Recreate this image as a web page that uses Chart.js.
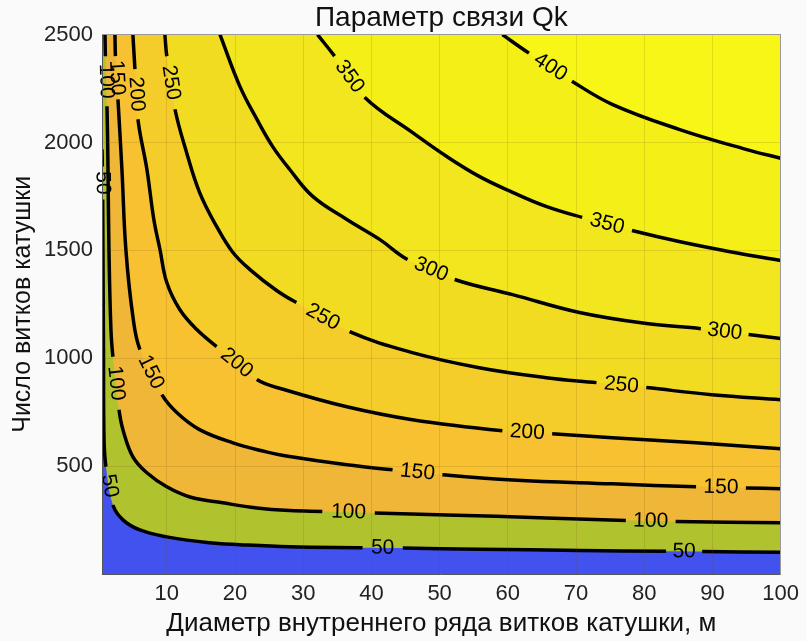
<!DOCTYPE html>
<html lang="ru">
<head>
<meta charset="UTF-8">
<title>Параметр связи Qk</title>
<script src="https://cdn.jsdelivr.net/npm/chart.js"></script>
<style>
  body { margin: 0; background: #fafafa; }
  #wrap { width: 806px; height: 641px; }
</style>
</head>
<body>
<div id="wrap"><canvas id="qk" width="806" height="641"></canvas></div>
<script>
const FONT = "'Liberation Sans', Arial, sans-serif";

// contour levels and band colours (band 0 = below 50, band i = above level i-1)
const levels = [50, 100, 150, 200, 250, 300, 350, 400];
const bandColors = ['#4152ef', '#b1c22f', '#efb638', '#f7c131', '#f5cd2a', '#f2dc22', '#f2e71e', '#f5ef18', '#f8f616'];

const xTicks = [10, 20, 30, 40, 50, 60, 70, 80, 90, 100];
const yTicks = [500, 1000, 1500, 2000, 2500];

// contour lines: x = diameter, y = turns
// gaps = index of the point after which the line is broken for its label
const c50x = [0.5, 0.55, 0.6, 0.64, 0.72, 0.8, 1.08, 2.1, 3.57, 6.06, 10.0, 15.9, 20.7, 28.0, 38.7, 44.6, 55.8, 70.5, 83.2, 88.5, 100];
const c50y = [1968, 1889, 1736, 1504, 1040, 622, 497, 320, 251, 204, 172, 146, 136, 126, 122, 120, 115, 109, 105, 104, 101];
const c50gaps = [1, 6, 14, 18];

const c100x = [0.94, 1.0, 1.23, 1.38, 1.52, 1.81, 2.1, 2.99, 3.57, 5.03, 7.08, 10.0, 13.4, 18.2, 23.2, 28.0, 32.8, 40.5, 51.0, 65.6, 77.3, 84.6, 100];
const c100y = [2500, 2400, 2168, 1876, 1504, 1133, 1007, 761, 669, 543, 469, 404, 357, 330, 306, 294, 290, 283, 274, 260, 248, 243, 237];
const c100gaps = [1, 6, 16, 20];

const c150x = [2.4, 2.47, 2.84, 3.42, 4.0, 5.03, 6.06, 9.28, 11.5, 14.8, 19.7, 24.6, 27.3, 36.4, 43.1, 50.4, 60.7, 75.3, 87.6, 94.9, 100];
const c150y = [2500, 2400, 2200, 1876, 1504, 1193, 1040, 831, 747, 669, 608, 566, 548, 506, 483, 460, 436, 418, 404, 399, 395];
const c150gaps = [1, 6, 14, 18];

const c200x = [5.03, 5.33, 5.77, 7.08, 8.1, 9.0, 10.0, 11.9, 14.4, 17.3, 23.2, 27.3, 36.4, 46.0, 59.2, 66.5, 75.3, 87.6, 100];
const c200y = [2500, 2340, 2108, 1876, 1643, 1504, 1351, 1226, 1133, 1054, 901, 854, 775, 715, 664, 650, 631, 608, 580];
const c200gaps = [1, 9, 14];

const c250x = [9.72, 10.0, 11.2, 12.9, 14.8, 17.3, 19.7, 22.2, 26.1, 29.0, 36.8, 46.0, 55.8, 65.6, 73.0, 80.3, 89.9, 100];
const c250y = [2500, 2400, 2154, 1954, 1769, 1611, 1490, 1411, 1314, 1258, 1123, 1026, 956, 910, 887, 864, 831, 808];
const c250gaps = [1, 9, 14];

const c300x = [17.8, 20.7, 23.2, 25.5, 28.0, 31.4, 36.4, 41.2, 45.3, 52.2, 60.7, 70.5, 80.3, 88.3, 95.3, 100];
const c300y = [2500, 2261, 2108, 1982, 1876, 1750, 1643, 1551, 1458, 1365, 1295, 1212, 1161, 1137, 1110, 1091];
const c300gaps = [8, 13];

const c350x = [32.1, 34.6, 39.0, 46.0, 51.0, 55.8, 60.7, 65.6, 70.9, 78.2, 85.1, 92.4, 100];
const c350y = [2500, 2400, 2210, 2047, 1936, 1843, 1769, 1704, 1653, 1592, 1541, 1495, 1453];
const c350gaps = [1, 8];

const c400x = [59.2, 63.1, 69.4, 75.3, 85.1, 94.9, 100];
const c400y = [2500, 2414, 2284, 2177, 2061, 1968, 1927];
const c400gaps = [1];

const contours = [
  { x: c50x, y: c50y, gaps: c50gaps },
  { x: c100x, y: c100y, gaps: c100gaps },
  { x: c150x, y: c150y, gaps: c150gaps },
  { x: c200x, y: c200y, gaps: c200gaps },
  { x: c250x, y: c250y, gaps: c250gaps },
  { x: c300x, y: c300y, gaps: c300gaps },
  { x: c350x, y: c350y, gaps: c350gaps },
  { x: c400x, y: c400y, gaps: c400gaps }
];
contours.forEach((c, i) => { c.level = levels[i]; });

function points(c) {
  return c.x.map((x, i) => ({ x: x, y: c.y[i] }));
}

const datasets = [];
// filled bands: each contour fills everything above it
contours.forEach((c, i) => {
  datasets.push({
    data: points(c),
    fill: 'end',
    backgroundColor: bandColors[i + 1],
    borderColor: 'transparent',
    borderWidth: 0,
    pointRadius: 0,
    tension: 0.4,
    order: 20 - i
  });
});
// black contour lines, broken where the labels go
contours.forEach(c => {
  datasets.push({
    data: points(c),
    fill: false,
    borderColor: '#000',
    borderWidth: 3.5,
    pointRadius: 0,
    tension: 0.4,
    order: 1,
    segment: {
      borderColor: ctx => c.gaps.includes(ctx.p0DataIndex) ? 'transparent' : '#000'
    }
  });
});

const areaBackground = {
  id: 'areaBackground',
  beforeDatasetsDraw(chart) {
    const a = chart.chartArea, ctx = chart.ctx;
    ctx.save();
    ctx.fillStyle = bandColors[0];
    ctx.fillRect(a.left, a.top, a.right - a.left, a.bottom - a.top);
    ctx.restore();
  }
};

const contourLabels = {
  id: 'contourLabels',
  afterDatasetsDraw(chart) {
    const ctx = chart.ctx, sx = chart.scales.x, sy = chart.scales.y;
    ctx.save();
    ctx.fillStyle = '#000';
    ctx.font = '21px ' + FONT;
    ctx.textAlign = 'center';
    ctx.textBaseline = 'middle';
    contours.forEach(c => {
      c.gaps.forEach(g => {
        const x0 = sx.getPixelForValue(c.x[g]), y0 = sy.getPixelForValue(c.y[g]);
        const x1 = sx.getPixelForValue(c.x[g + 1]), y1 = sy.getPixelForValue(c.y[g + 1]);
        let ang = Math.atan2(y1 - y0, x1 - x0);
        if (ang > Math.PI / 2) ang -= Math.PI;
        if (ang < -Math.PI / 2) ang += Math.PI;
        ctx.save();
        ctx.translate((x0 + x1) / 2, (y0 + y1) / 2);
        ctx.rotate(ang);
        ctx.fillText(String(c.level), 0, 0);
        ctx.restore();
      });
    });
    ctx.restore();
  }
};

const gridColor = 'rgba(110, 80, 0, 0.16)';

new Chart(document.getElementById('qk'), {
  type: 'line',
  data: { datasets: datasets },
  options: {
    responsive: false,
    animation: false,
    layout: { padding: { left: 0, right: 23, top: 0, bottom: 0 } },
    plugins: {
      legend: { display: false },
      tooltip: { enabled: false },
      title: {
        display: true,
        fullSize: false,
        text: 'Параметр связи Qk',
        color: '#111',
        font: { family: FONT, size: 28, weight: 'normal' },
        padding: { top: 1, bottom: 0 }
      }
    },
    scales: {
      x: {
        type: 'linear',
        min: 0.5,
        max: 100,
        z: 1,
        afterBuildTicks: s => { s.ticks = xTicks.map(v => ({ value: v })); },
        afterFit: s => { s.height = 67; },
        grid: { color: gridColor, drawTicks: false, z: 1 },
        border: { color: '#555', z: 2 },
        ticks: { padding: 7, color: '#222', font: { family: FONT, size: 22 }, callback: v => String(v) },
        title: {
          display: true,
          text: 'Диаметр внутреннего ряда витков катушки, м',
          color: '#111',
          font: { family: FONT, size: 26 },
          padding: { top: 0, bottom: 2 }
        }
      },
      y: {
        type: 'linear',
        min: 0,
        max: 2500,
        z: 1,
        afterBuildTicks: s => { s.ticks = yTicks.map(v => ({ value: v })); },
        afterFit: s => { s.width = 102; },
        grid: { color: gridColor, drawTicks: false, z: 1 },
        border: { color: '#555', z: 2 },
        ticks: { padding: 9, color: '#222', font: { family: FONT, size: 22 }, callback: v => String(v) },
        title: {
          display: true,
          text: 'Число витков катушки',
          color: '#111',
          font: { family: FONT, size: 25 },
          padding: { top: 8, bottom: 0 }
        }
      },
      xTop: {
        type: 'linear',
        position: 'top',
        min: 0.5,
        max: 100,
        z: 1,
        ticks: { display: false },
        grid: { display: false, drawTicks: false },
        border: { color: '#999', z: 2 },
        afterFit: s => { s.height = 0; }
      },
      yRight: {
        type: 'linear',
        position: 'right',
        min: 0,
        max: 2500,
        z: 1,
        ticks: { display: false },
        grid: { display: false, drawTicks: false },
        border: { color: '#999', z: 2 },
        afterFit: s => { s.width = 0; }
      }
    }
  },
  plugins: [areaBackground, contourLabels]
});
</script>
</body>
</html>
